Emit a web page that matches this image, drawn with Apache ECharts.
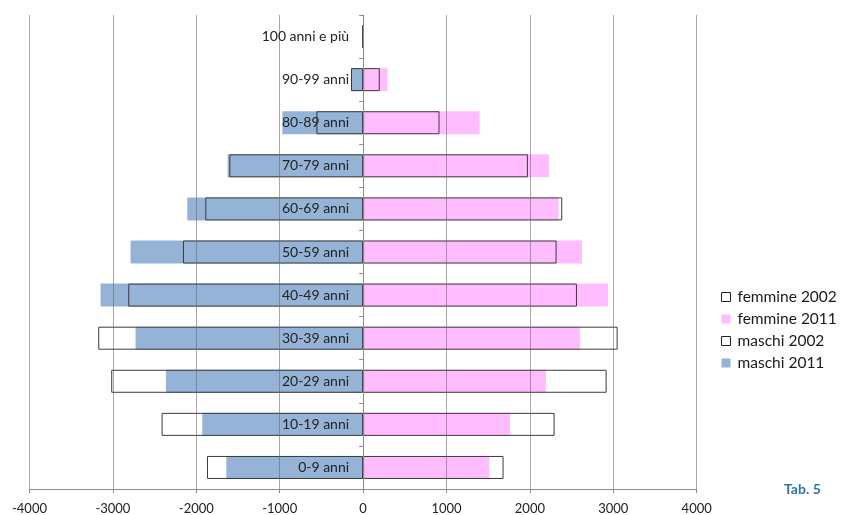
<!DOCTYPE html>
<html>
<head>
<meta charset="utf-8">
<script src="https://cdn.jsdelivr.net/npm/echarts@6/dist/echarts.min.js"></script>
<style>
  html, body { margin: 0; padding: 0; background: #fff; }
  #chart { width: 842px; height: 515px; }
</style>
</head>
<body>
<div id="chart"></div>
<script>
// Age groups, bottom to top
const ageGroups = ['0-9 anni', '10-19 anni', '20-29 anni', '30-39 anni', '40-49 anni',
  '50-59 anni', '60-69 anni', '70-79 anni', '80-89 anni', '90-99 anni', '100 anni e più'];

// Residents per age group (counts)
const femmine2011 = [1512, 1760, 2192, 2600, 2936, 2624, 2344, 2228, 1396, 292, 12];
const femmine2002 = [1684, 2296, 2920, 3052, 2564, 2320, 2388, 1976, 916, 200, 8];
const maschi2011  = [1640, 1928, 2364, 2728, 3148, 2788, 2108, 1624, 968, 144, 6];
const maschi2002  = [1872, 2416, 3020, 3176, 2816, 2160, 1892, 1604, 560, 145, 6];

const legendNames = ['femmine 2002', 'femmine 2011', 'maschi 2002', 'maschi 2011'];

const FONT = 'Lato';
const PINK = '#FFBDFF';
const BLUE = '#95B3D7';
const OUTLINE = '#3a3a3a';

// Plot box
const GRID_LEFT = 29.5, GRID_RIGHT = 145.3;
const PLOT_W = 842 - GRID_LEFT - GRID_RIGHT;

const neg = arr => arr.map(v => -v);

const chart = echarts.init(document.getElementById('chart'), null, { renderer: 'canvas' });

const filled = (name, data, color) => ({
  name, type: 'bar', data, barWidth: 23, barGap: '-100%',
  itemStyle: { color },
  emphasis: { disabled: true },
  z: 2
});
const outline = (name, data) => ({
  name, type: 'bar', data, barWidth: 23, barGap: '-100%',
  itemStyle: { color: 'rgba(0,0,0,0)', borderColor: OUTLINE, borderWidth: 1 },
  emphasis: { disabled: true },
  z: 2
});

chart.setOption({
  animation: false,
  backgroundColor: '#fff',
  grid: { left: GRID_LEFT, right: GRID_RIGHT, top: 15, bottom: 26, containLabel: false, outerBoundsMode: 'none' },
  legend: {
    orient: 'vertical',
    left: 721, top: 289,
    padding: 0,
    itemWidth: 9, itemHeight: 9, itemGap: 6,
    icon: 'rect',
    selectedMode: false,
    textStyle: { fontFamily: FONT, fontSize: 15.5, color: '#1a1a1a', padding: [0, 0, 0, 2] },
    data: [
      { name: legendNames[0], itemStyle: { color: '#fff', borderColor: '#222', borderWidth: 1 } },
      { name: legendNames[1], itemStyle: { color: PINK, borderWidth: 0 } },
      { name: legendNames[2], itemStyle: { color: '#fff', borderColor: '#222', borderWidth: 1 } },
      { name: legendNames[3], itemStyle: { color: BLUE, borderWidth: 0 } }
    ]
  },
  xAxis: {
    type: 'value',
    min: -4000, max: 4000, interval: 1000,
    z: 3,
    axisLine: { show: true, lineStyle: { color: '#8c8c8c', width: 1 } },
    axisTick: { show: true, length: 4, lineStyle: { color: '#8c8c8c' } },
    axisLabel: { fontFamily: FONT, fontSize: 13, color: '#222', margin: 13, formatter: v => String(v) },
    splitLine: { show: true, lineStyle: { color: 'rgba(105,105,105,0.6)', width: 1 } }
  },
  yAxis: {
    type: 'category',
    data: ageGroups,
    z: 4,
    // shift the whole category axis (line, ticks, labels) onto the zero value
    offset: -PLOT_W / 2,
    axisLine: { show: true, onZero: false, lineStyle: { color: '#8c8c8c', width: 1 } },
    axisTick: { show: true, length: 4, lineStyle: { color: '#8c8c8c' } },
    axisLabel: { fontFamily: FONT, fontSize: 14, color: '#222', margin: 14 },
    splitLine: { show: false }
  },
  series: [
    filled('femmine 2011', femmine2011, PINK),
    filled('maschi 2011', neg(maschi2011), BLUE),
    outline('femmine 2002', femmine2002),
    outline('maschi 2002', neg(maschi2002))
  ],
  graphic: [{
    type: 'text',
    left: 784, top: 482,
    style: { text: 'Tab. 5', fontFamily: FONT, fontSize: 14, fontWeight: 'bold', fill: '#2C76B6' }
  }]
});
</script>
</body>
</html>
